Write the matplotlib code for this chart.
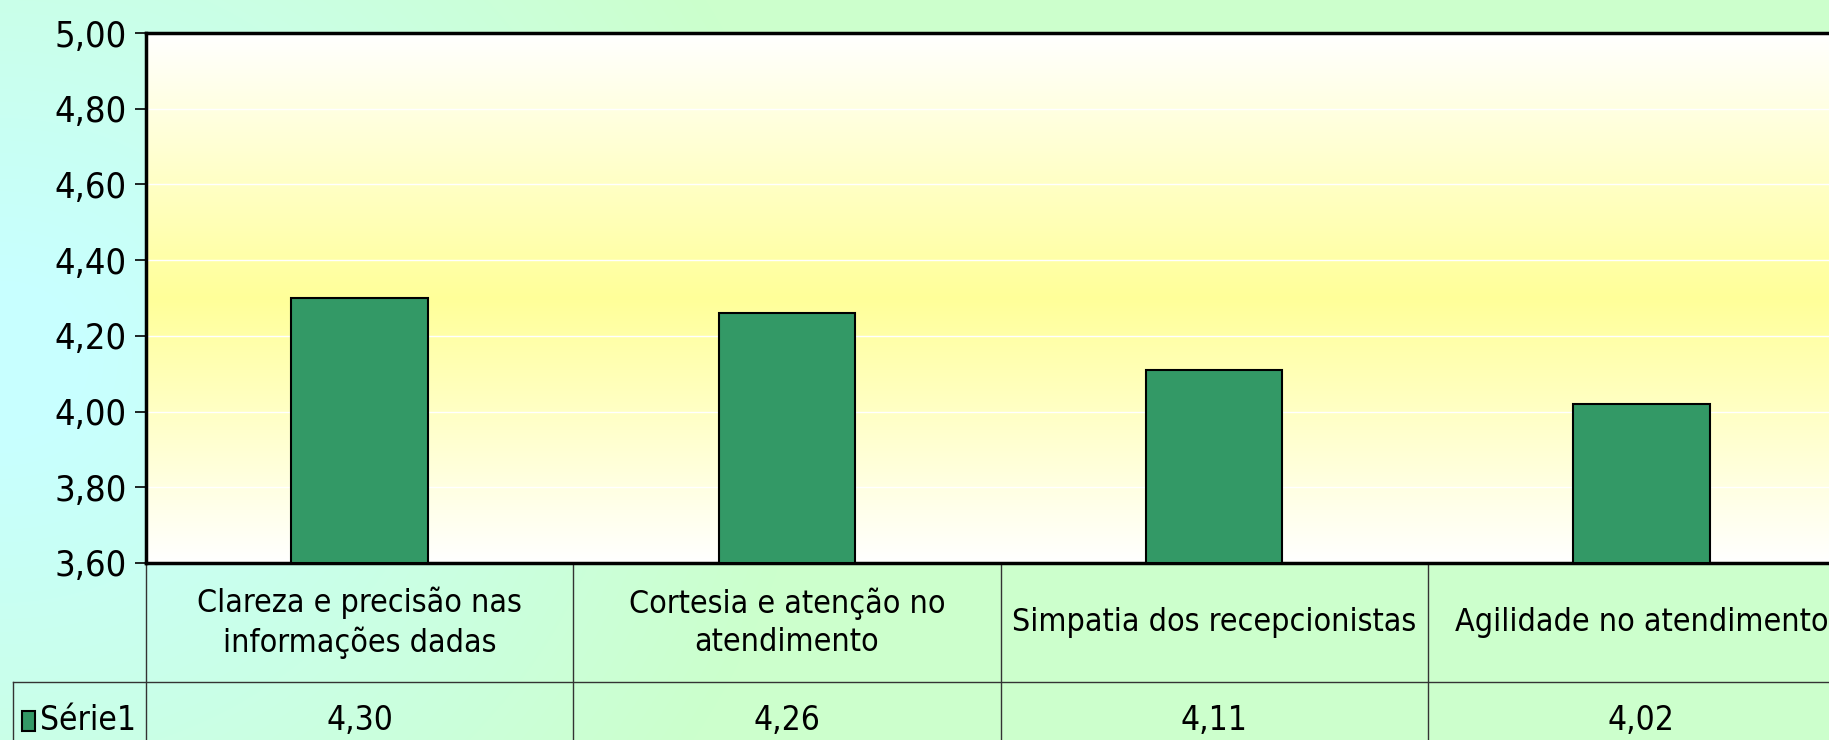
import numpy as np
import matplotlib
matplotlib.use("Agg")
import matplotlib.pyplot as plt
from matplotlib.colors import LinearSegmentedColormap, to_rgb
from matplotlib.transforms import blended_transform_factory
from matplotlib.patches import Rectangle

# dados do gráfico
categorias = ["Clareza e precisão nas\ninformações dadas",
              "Cortesia e atenção no\natendimento",
              "Simpatia dos recepcionistas",
              "Agilidade no atendimento"]
valores = [4.30, 4.26, 4.11, 4.02]
serie = "Série1"
yticks = [3.60, 3.80, 4.00, 4.20, 4.40, 4.60, 4.80, 5.00]

W, H = 1829, 740
plt.rcParams['font.family'] = ['DejaVu Sans']
plt.rcParams['font.stretch'] = 'condensed'

fig = plt.figure(figsize=(W / 100, H / 100), dpi=100)

# fundo da figura: degradê radial, ciano na esquerda -> verde claro
bg = fig.add_axes([0, 0, 1, 1], zorder=-10)
yy, xx = np.mgrid[0:H, 0:W]
d = np.sqrt((xx * 0.9) ** 2 + ((yy - 360) * 1.0) ** 2)
t = np.clip((d - 80) / 650.0, 0, 1)[..., None]
c1 = np.array(to_rgb("#C8FFFF"))
c2 = np.array(to_rgb("#CCFFCC"))
bg.imshow(c1 * (1 - t) + c2 * t, aspect="auto", extent=[0, 1, 0, 1])
bg.axis("off")

def fx(px):
    return px / W

def fy(py):
    return 1 - py / H

left, right, top, bottom = 146, 1855, 33, 563
ax = fig.add_axes([fx(left), fy(bottom), fx(right - left), (bottom - top) / H])

# degradê da área de plotagem: branco - amarelo - branco
cmap = LinearSegmentedColormap.from_list(
    "pa", [(0, "#FFFFFF"), (0.5, "#FFFF99"), (1, "#FFFFFF")])
grad = np.linspace(0, 1, 256)[:, None]
ax.imshow(grad, cmap=cmap, aspect="auto", extent=[-0.5, 3.5, 3.6, 5.0], zorder=0)

x = np.arange(len(valores))
ax.bar(x, np.array(valores) - 3.6, bottom=3.6, width=0.32, color="#339966",
       edgecolor="black", linewidth=1.5, zorder=3)

ax.set_xlim(-0.5, 3.5)
ax.set_ylim(3.6, 5.0)
ax.set_yticks(yticks)
ax.set_yticklabels([f"{v:.2f}".replace(".", ",") for v in yticks], fontsize=26)
ax.set_xticks([])
for v in yticks[1:-1]:
    ax.axhline(v, color="white", linewidth=1, zorder=1)
ax.tick_params(axis="y", direction="out", length=8, width=1.2, pad=6)
for s in ["left", "bottom", "top"]:
    ax.spines[s].set_linewidth(2.5)
ax.spines["right"].set_visible(False)

# tabela de dados
tr = blended_transform_factory(ax.transData, fig.transFigure)
row1 = fy(682)
lc = "#333333"
for i in range(len(valores) + 1):
    ax.plot([i - 0.5, i - 0.5], [fy(bottom), 0], transform=tr, color=lc,
            linewidth=1, clip_on=False)
fig.add_artist(plt.Line2D([fx(13), 1], [row1, row1], color=lc, linewidth=1))
fig.add_artist(plt.Line2D([fx(13), fx(13)], [row1, 0], color=lc, linewidth=1))

for i, (c, v) in enumerate(zip(categorias, valores)):
    ax.text(i, fy(623), c, transform=tr, ha="center", va="center",
            fontsize=23, linespacing=1.3)
    ax.text(i, fy(720), f"{v:.2f}".replace(".", ","), transform=tr,
            ha="center", va="center", fontsize=24)

fig.add_artist(Rectangle((fx(22), fy(731)), fx(13), (731 - 711) / H,
                         facecolor="#339966", edgecolor="black", linewidth=1.5))
fig.text(fx(40), fy(720), serie, ha="left", va="center", fontsize=24)

fig.savefig("out.png", dpi=100)
